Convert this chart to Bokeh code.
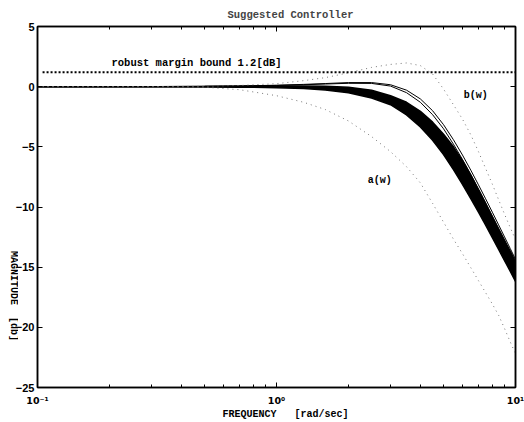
import math
from bokeh.plotting import figure
from bokeh.layouts import row
from bokeh.models import Range1d, LogAxis, LinearAxis, FixedTicker, Label
from bokeh.core.properties import value
from bokeh.embed import file_html
from bokeh.resources import INLINE

# ---- data ----
freq = [0.1, 0.3, 0.5, 0.7, 1.0, 1.3, 1.6, 2.0, 2.5, 3.0, 3.5, 4.0, 4.5, 5.0,
        5.5, 6.0, 6.5, 7.0, 7.5, 8.0, 8.5, 9.0, 9.5, 10.0]

thin_upper = [0.0, 0.01, 0.03, 0.06, 0.12, 0.19, 0.26, 0.34, 0.34, 0.16, -0.29,
              -1.02, -2.00, -3.16, -4.41, -5.68, -6.94, -8.16, -9.32, -10.43,
              -11.49, -12.49, -13.44, -14.35]
thin_second = [0.0, 0.01, 0.03, 0.05, 0.10, 0.16, 0.22, 0.28, 0.27, 0.05, -0.50,
               -1.30, -2.33, -3.50, -4.78, -6.05, -7.30, -8.52, -9.68, -10.79,
               -11.85, -12.84, -13.62, -14.50]
bundle_top = [0.0, 0.0, 0.01, 0.03, 0.05, 0.06, 0.04, -0.05, -0.30, -0.75, -1.30,
              -2.05, -2.95, -3.95, -5.00, -6.15, -7.35, -8.55, -9.70, -10.80,
              -11.82, -12.78, -13.70, -14.60]
bundle_bot = [0.0, -0.01, -0.02, -0.04, -0.08, -0.16, -0.28, -0.51, -0.95, -1.50,
              -2.35, -3.35, -4.45, -5.65, -6.90, -8.12, -9.30, -10.43, -11.51,
              -12.55, -13.53, -14.46, -15.34, -16.19]
a_w = [0.0, 0.0, -0.05, -0.25, -0.75, -1.30, -1.90, -2.85, -4.15, -5.40, -6.65,
       -8.00, -9.70, -11.26, -12.67, -13.88, -15.04, -16.12, -17.12, -18.06,
       -19.00, -20.10, -21.20, -22.20]
b_w = [0.0, 0.0, 0.03, 0.10, 0.25, 0.50, 0.75, 1.15, 1.60, 1.85, 1.97, 1.75,
       1.05, -0.20, -1.50, -2.70, -4.00, -5.40, -6.80, -8.10, -9.40, -10.60,
       -11.70, -12.70]
bound_x = [0.105, 10.0]
bound_db = [1.2, 1.2]

x_ticks = [0.1, 1, 10]
x_tick_labels = ["10\u207b\u00b9", "10\u2070", "10\u00b9"]
x_minor = [0.2, 0.3, 0.4, 0.5, 0.6, 0.7, 0.8, 0.9, 2, 3, 4, 5, 6, 7, 8, 9]
y_ticks = [5, 0, -5, -10, -15, -20, -25]

MONO = "Liberation Mono"
NB = "\u00a0"

STRIP_W = 18     # strip on the left that carries the y axis title
OVERLAP = 6      # main figure slides this far over the strip
TOTAL_W = 524
H = 422

p = figure(width=TOTAL_W - STRIP_W + OVERLAP, height=H, x_axis_type="log",
           x_range=Range1d(0.1, 10), y_range=Range1d(-25, 5),
           output_backend="svg", toolbar_location=None,
           min_border_left=36 - STRIP_W + OVERLAP, min_border_right=9,
           min_border_top=26, min_border_bottom=33)
p.margin = (0, 0, 0, -OVERLAP)
p.xgrid.visible = False
p.ygrid.visible = False
p.outline_line_color = "black"
p.outline_line_width = 1.5
p.background_fill_color = "white"
p.border_fill_alpha = 0

# title
p.title.text = "Suggested Controller"
p.title.text_font = MONO
p.title.text_font_style = "bold"
p.title.text_font_size = "10.5px"
p.title.align = "left"
p.title.offset = 190
p.title.vertical_align = "top"
p.title.standoff = 8


def style_axis(ax, minor=True, font="Liberation Sans", size="11px"):
    ax.axis_line_color = "black"
    ax.axis_line_width = 1.5
    ax.major_tick_in = 5
    ax.major_tick_out = 0
    ax.minor_tick_in = 3
    ax.minor_tick_out = 0
    ax.major_tick_line_color = "black"
    ax.major_tick_line_width = 1
    if minor:
        ax.minor_tick_line_color = "black"
        ax.minor_tick_line_width = 1
    else:
        ax.minor_tick_line_color = None
    ax.major_label_text_font = font
    ax.major_label_text_font_style = "bold"
    ax.major_label_text_font_size = size
    ax.major_label_text_color = "black"
    ax.axis_label_text_font = MONO
    ax.axis_label_text_font_style = "bold"
    ax.axis_label_text_font_size = "10px"
    ax.axis_label_text_color = "black"


xa = p.xaxis[0]
style_axis(xa, minor=True, font="DejaVu Sans", size="9.5px")
xa.ticker = FixedTicker(ticks=x_ticks, minor_ticks=x_minor)
xa.major_label_overrides = dict(zip(x_ticks, x_tick_labels))
xa.major_label_standoff = 7
xa.axis_label = NB * 3 + "FREQUENCY" + NB * 3 + "[rad/sec]"
xa.axis_label_standoff = 0

ya = p.yaxis[0]
style_axis(ya, minor=False)
ya.ticker = FixedTicker(ticks=y_ticks)
ya.major_label_standoff = 3

top_ax = LogAxis(ticker=FixedTicker(ticks=x_ticks, minor_ticks=x_minor))
style_axis(top_ax, minor=True, size="1px")
top_ax.major_label_overrides = {t: "" for t in x_ticks}
top_ax.major_label_standoff = 0
p.add_layout(top_ax, "above")

right_ax = LinearAxis(ticker=FixedTicker(ticks=y_ticks))
style_axis(right_ax, minor=False, size="1px")
right_ax.major_label_overrides = {t: "" for t in y_ticks}
right_ax.major_label_standoff = 0
p.add_layout(right_ax, "right")

# bundle of controller responses
p.varea(x=freq, y1=bundle_bot, y2=bundle_top, fill_color="black")
p.line(freq, bundle_top, line_color="black", line_width=1.5)
p.line(freq, bundle_bot, line_color="black", line_width=1.5)
p.line(freq, thin_second, line_color="black", line_width=1)
p.line(freq, thin_upper, line_color="black", line_width=1)

# bounds a(w), b(w)
p.line(freq, a_w, line_color="#777777", line_width=1, line_dash="1 4")
p.line(freq, b_w, line_color="#777777", line_width=1, line_dash="1 4")

# robust margin bound
p.line(bound_x, bound_db, line_color="black", line_width=2, line_dash="2 2")


def txt(text, x, y, size="10px"):
    p.add_layout(Label(x=x, y=y, text=text, text_font=MONO,
                       text_font_style="bold", text_font_size=size,
                       text_color="black", text_align="left",
                       text_baseline="middle"))


txt("robust margin bound 1.2[dB]", 0.204, 1.95, size="10.5px")
txt("a(w)", 2.41, -7.8)
txt("b(w)", 6.07, -0.7)

# narrow strip on the left holding the y-axis title (reads top to bottom)
pl = figure(width=STRIP_W, height=H, title=None,
            x_range=Range1d(0, STRIP_W), y_range=Range1d(-25, 5),
            x_axis_location=None, y_axis_location=None,
            output_backend="svg", toolbar_location=None,
            min_border_left=0, min_border_right=0,
            min_border_top=26, min_border_bottom=33)
pl.xgrid.visible = False
pl.ygrid.visible = False
pl.outline_line_color = None
pl.background_fill_color = "white"
pl.border_fill_color = "white"
pl.text(x=[13], y=[-17.4], text=["MAGNITUDE" + NB * 2 + "[db]"],
        angle=-math.pi / 2, text_align="center", text_baseline="middle",
        text_font=value(MONO), text_font_style="bold",
        text_font_size=value("10px"), text_color="black")

layout = row(pl, p, spacing=0)
open("out.html", "w").write(file_html(layout, INLINE))
